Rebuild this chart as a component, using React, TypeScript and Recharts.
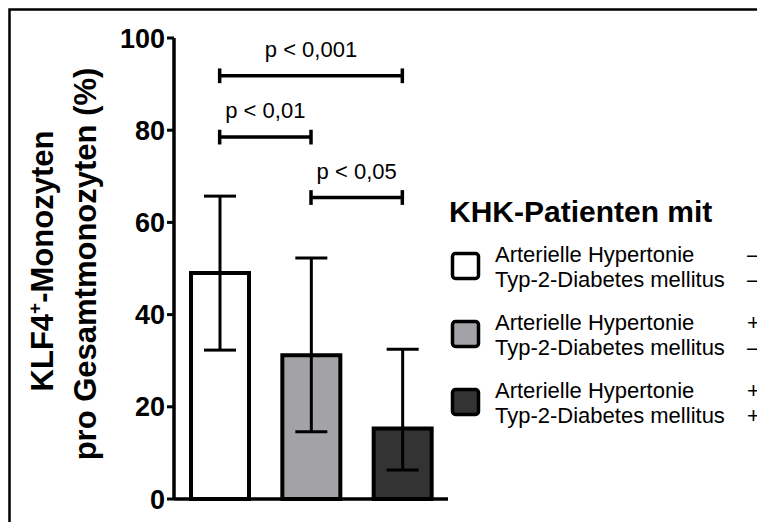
import React from 'react';
import { BarChart, Bar, XAxis, YAxis, ErrorBar, Cell, ReferenceLine } from 'recharts';

// Patient groups (hypertension / type 2 diabetes status)
const groups = ['AH- T2D-', 'AH+ T2D-', 'AH+ T2D+'];
// Mean share of KLF4+ monocytes (%)
const means = [49.0, 31.2, 15.3];
// Upper and lower ends of the error bars (%)
const upperEnds = [65.7, 52.3, 32.5];
const lowerEnds = [32.3, 14.6, 6.3];
const fills = ['#ffffff', '#a3a3a7', '#333333'];
const yTicks = [0, 20, 40, 60, 80, 100];

// Pairwise significance brackets
const comparisons = [
  { from: 0, to: 2, y: 91.8, label: 'p < 0,001' },
  { from: 0, to: 1, y: 78.5, label: 'p < 0,01' },
  { from: 1, to: 2, y: 65.4, label: 'p < 0,05' },
];

const legendTitle = 'KHK-Patienten mit';
const legendLine1 = 'Arterielle Hypertonie';
const legendLine2 = 'Typ-2-Diabetes mellitus';
const hypertonieSigns = ['\u2013', '+', '+'];
const diabetesSigns = ['\u2013', '\u2013', '+'];

const FONT = '"Liberation Sans", Arial, Helvetica, sans-serif';
const CAP = 1.6; // half height of bracket end ticks, in axis units

const data = groups.map((g, i) => ({
  group: g,
  mean: means[i],
  err: [means[i] - lowerEnds[i], upperEnds[i] - means[i]],
}));

export default function App() {
  return (
    <div
      style={{
        position: 'absolute',
        left: 0,
        top: 0,
        width: 757,
        height: 522,
        background: '#fff',
        overflow: 'hidden',
      }}
    >
      <BarChart
        width={757}
        height={522}
        data={data}
        margin={{ top: 38, right: 309, bottom: 13, left: 114 }}
        barSize={58}
      >
        <XAxis
          dataKey="group"
          height={10}
          tick={false}
          tickLine={false}
          axisLine={{ stroke: '#000', strokeWidth: 3.5 }}
        />
        <YAxis
          width={60}
          domain={[0, 100]}
          ticks={yTicks}
          interval={0}
          tickSize={7}
          tickMargin={2}
          axisLine={{ stroke: '#000', strokeWidth: 3.5 }}
          tickLine={{ stroke: '#000', strokeWidth: 3 }}
          tick={{ fill: '#000', fontSize: 27, fontWeight: 'bold', fontFamily: FONT }}
        />
        <Bar dataKey="mean" stroke="#000" strokeWidth={4} isAnimationActive={false}>
          {data.map((d, i) => (
            <Cell key={d.group} fill={fills[i]} />
          ))}
          <ErrorBar dataKey="err" width={16} stroke="#000" strokeWidth={3} direction="y" />
        </Bar>
        {comparisons.map((c) => (
          <ReferenceLine
            key={c.label}
            segment={[
              { x: groups[c.from], y: c.y },
              { x: groups[c.to], y: c.y },
            ]}
            stroke="#000"
            strokeWidth={3.5}
            label={{
              value: c.label,
              position: 'top',
              offset: 19,
              fill: '#000',
              fontSize: 22,
              fontFamily: FONT,
            }}
          />
        ))}
        {comparisons.flatMap((c) =>
          [c.from, c.to].map((k) => (
            <ReferenceLine
              key={c.label + k}
              segment={[
                { x: groups[k], y: c.y - CAP },
                { x: groups[k], y: c.y + CAP },
              ]}
              stroke="#000"
              strokeWidth={3.5}
            />
          ))
        )}
      </BarChart>

      <svg
        width={757}
        height={522}
        style={{ position: 'absolute', left: 0, top: 0, pointerEvents: 'none' }}
      >
        {/* outer frame */}
        <rect x={9.5} y={9.5} width={900} height={700} fill="none" stroke="#000" strokeWidth={2.5} />

        {/* y-axis title */}
        <text
          transform="translate(53, 261) rotate(-90)"
          textAnchor="middle"
          fontFamily={FONT}
          fontWeight="bold"
          fontSize={31}
          fill="#000"
        >
          KLF4<tspan fontSize={19} dy={-12}>+</tspan>
          <tspan dy={12}>-Monozyten</tspan>
        </text>
        <text
          transform="translate(96, 264) rotate(-90)"
          textAnchor="middle"
          fontFamily={FONT}
          fontWeight="bold"
          fontSize={31}
          fill="#000"
        >
          pro Gesamtmonozyten (%)
        </text>

        {/* legend */}
        <text x={449} y={222} fontFamily={FONT} fontWeight="bold" fontSize={30} fill="#000">
          {legendTitle}
        </text>
        {fills.map((f, i) => {
          const base = 262 + i * 68;
          return (
            <g key={i}>
              <rect
                x={452.5}
                y={253.5 + i * 68}
                width={26}
                height={25}
                rx={3}
                fill={f}
                stroke="#000"
                strokeWidth={3.5}
              />
              <text x={495} y={base} fontFamily={FONT} fontSize={22} fill="#000">
                {legendLine1}
              </text>
              <text x={495} y={base + 25} fontFamily={FONT} fontSize={22} fill="#000">
                {legendLine2}
              </text>
              <text x={747} y={base} fontFamily={FONT} fontSize={22} fill="#000">
                {hypertonieSigns[i]}
              </text>
              <text x={747} y={base + 25} fontFamily={FONT} fontSize={22} fill="#000">
                {diabetesSigns[i]}
              </text>
            </g>
          );
        })}
      </svg>
    </div>
  );
}
